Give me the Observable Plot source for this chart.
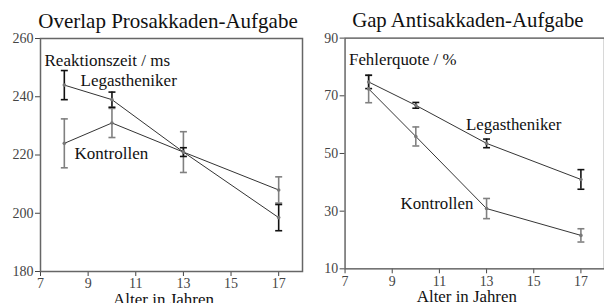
<!DOCTYPE html>
<html><head><meta charset="utf-8">
<script src="https://cdn.jsdelivr.net/npm/d3@7"></script>
<script src="https://cdn.jsdelivr.net/npm/@observablehq/plot@0.6"></script>
<style>
html,body{margin:0;padding:0;background:#fff;}
#wrap{position:relative;width:604px;height:303px;overflow:hidden;background:#fff;}
#left{position:absolute;left:0;top:0;}
#right{position:absolute;left:300px;top:0;}
svg text{font-family:"Liberation Serif","DejaVu Serif",serif !important;}
</style></head>
<body><div id="wrap"><div id="left"></div><div id="right"></div></div>
<script>
const ages = [8, 10, 13, 17];
const xTicks = [7, 9, 11, 13, 15, 17];

const proTitle = "Overlap Prosakkaden-Aufgabe";
const proYLabel = "Reaktionszeit / ms";
const proYTicks = [180, 200, 220, 240, 260];
const proLeg = [244, 239, 221, 198.5];
const proLegErr = [5, 2.6, 1.5, 4.5];
const proKon = [224, 231, 221, 208];
const proKonErr = [8.4, 5, 7, 4.5];

const antiTitle = "Gap Antisakkaden-Aufgabe";
const antiYLabel = "Fehlerquote / %";
const antiYTicks = [10, 30, 50, 70, 90];
const antiLeg = [74.8, 66.7, 53.5, 41];
const antiLegErr = [2.3, 1, 1.5, 3.4];
const antiKon = [72.4, 55.9, 30.9, 21.6];
const antiKonErr = [4.8, 3.3, 3.5, 2.3];

const groupNames = ["Legastheniker", "Kontrollen"];
const xLabel = "Alter in Jahren";

const proLabelPos = [{x: 8.68, y: 245.6}, {x: 8.43, y: 220.5}];
const antiLabelPos = [{x: 12.13, y: 60.1}, {x: 9.35, y: 32.7}];

const FF = "'Liberation Serif', 'DejaVu Serif', serif";

function rows(vals, errs, group) {
  return ages.map((a, i) => ({x: a, y: vals[i], lo: vals[i] - errs[i], hi: vals[i] + errs[i], group}));
}

const cap = {draw(ctx) { ctx.moveTo(-3.5, 0); ctx.lineTo(3.5, 0); }};
const barColor = {Legastheniker: "#111", Kontrollen: "#808080"};

function panel(opts) {
  const leg = rows(opts.leg, opts.legErr, "Legastheniker");
  const kon = rows(opts.kon, opts.konErr, "Kontrollen");
  const labels = groupNames.map((g, i) => ({...opts.labelPos[i], text: g}));
  const bars = [];
  for (const d of [kon, leg]) {
    const c = barColor[d[0].group];
    bars.push(Plot.ruleX(d, {x: "x", y1: "lo", y2: "hi", stroke: c, strokeWidth: 1.6}));
    bars.push(Plot.dot(d, {x: "x", y: "lo", symbol: cap, stroke: c, fill: "none", strokeWidth: 1.6}));
    bars.push(Plot.dot(d, {x: "x", y: "hi", symbol: cap, stroke: c, fill: "none", strokeWidth: 1.6}));
  }
  return Plot.plot({
    width: opts.width, height: 303,
    marginLeft: opts.ml, marginRight: opts.mr, marginTop: 38, marginBottom: 32,
    style: {fontFamily: FF, fontSize: "14px", color: "#444", background: "transparent", overflow: "visible"},
    x: {domain: [7, 18]},
    y: {domain: opts.ydomain},
    marks: [
      Plot.axisY({ticks: opts.yticks, tickSize: 5, tickPadding: 2, label: null, fontSize: 14, fontFamily: FF}),
      Plot.axisX({ticks: xTicks, tickSize: 5, tickPadding: 2, label: null, fontSize: 14, fontFamily: FF}),
      Plot.frame({stroke: "#666", strokeWidth: 1.5}),
      ...bars,
      Plot.line(leg, {x: "x", y: "y", stroke: "#333", strokeWidth: 1}),
      Plot.line(kon, {x: "x", y: "y", stroke: "#333", strokeWidth: 1}),
      Plot.dot([...leg, ...kon], {x: "x", y: "y", r: 1.8, fill: "#777", stroke: "none"}),
      Plot.text(labels, {x: "x", y: "y", text: "text", textAnchor: "start", fontSize: 17, fontFamily: FF, fill: "#111"}),
      Plot.text([opts.ylabel], {frameAnchor: "top-left", dx: 4, dy: 15, textAnchor: "start", fontSize: 17, fontFamily: FF, fill: "#111"}),
      Plot.text([opts.title], {frameAnchor: "top", dx: opts.tdx, dy: -11, lineAnchor: "bottom", fontSize: 21, fontFamily: FF, fill: "#111"}),
      Plot.text([xLabel], {frameAnchor: "bottom", dx: opts.xdx, dy: 33, lineAnchor: "bottom", fontSize: 17, fontFamily: FF, fill: "#111"})
    ]
  });
}

document.getElementById("left").appendChild(panel({
  width: 304, ml: 40, mr: 2, ydomain: [180, 260], yticks: proYTicks,
  leg: proLeg, legErr: proLegErr, kon: proKon, konErr: proKonErr,
  labelPos: proLabelPos, ylabel: proYLabel, title: proTitle, tdx: -3.5, xdx: -8
}));
document.getElementById("right").appendChild(panel({
  width: 307, ml: 45, mr: 0, ydomain: [10, 90], yticks: antiYTicks,
  leg: antiLeg, legErr: antiLegErr, kon: antiKon, konErr: antiKonErr,
  labelPos: antiLabelPos, ylabel: antiYLabel, title: antiTitle, tdx: -7, xdx: -8
}));
</script></body></html>
